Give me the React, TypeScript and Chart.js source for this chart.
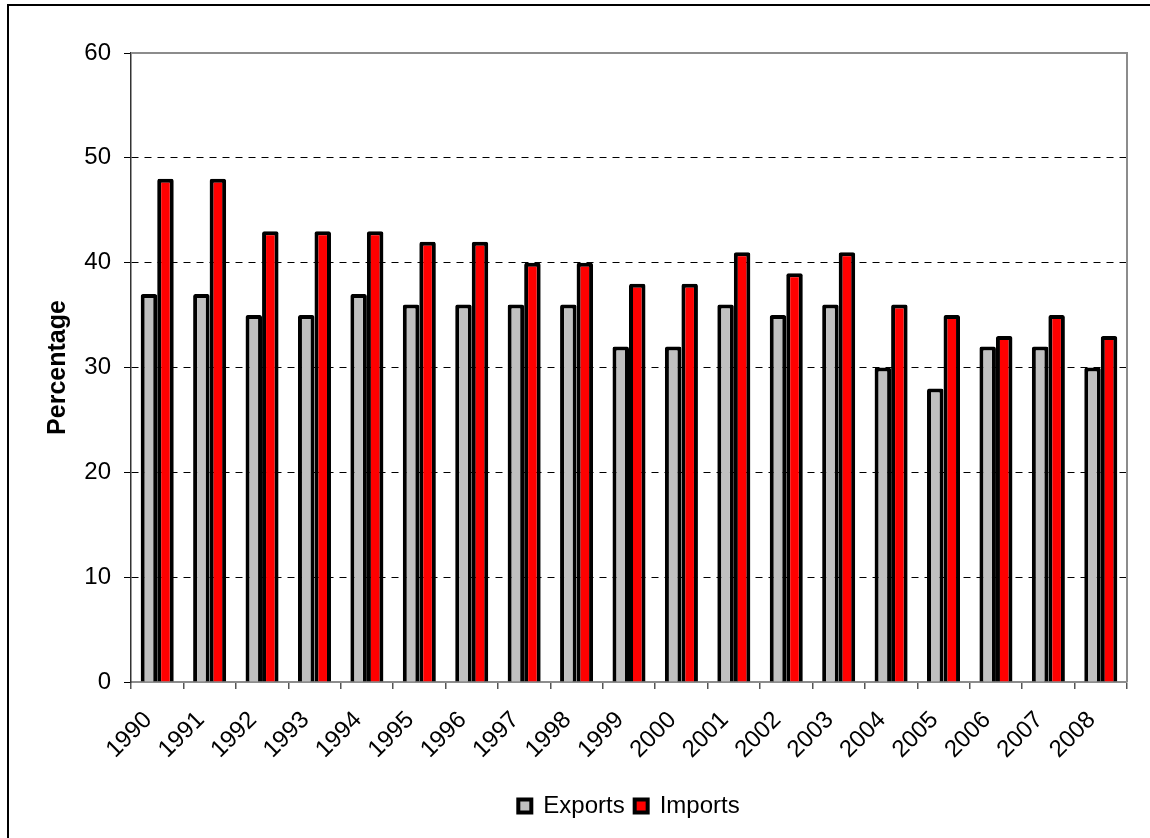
import React, { useEffect, useRef } from "react";
import { Chart, registerables } from "chart.js";

Chart.register(...registerables);

const years = ["1990","1991","1992","1993","1994","1995","1996","1997","1998","1999","2000","2001","2002","2003","2004","2005","2006","2007","2008"];
const exportsValues = [37,37,35,35,37,36,36,36,36,32,32,36,35,36,30,28,32,32,30];
const importsValues = [48,48,43,43,43,42,42,40,40,38,38,41,39,41,36,35,33,35,33];
const yTicks = [0,10,20,30,40,50,60];

const FONT = "'Liberation Sans', Arial, sans-serif";

const framePlugin = {
  id: "frame",
  beforeDraw(chart: any) {
    const ctx = chart.ctx;
    ctx.save();
    ctx.fillStyle = "#fff";
    ctx.fillRect(0, 0, chart.width, chart.height);
    ctx.fillStyle = "#000";
    ctx.fillRect(7, 4, chart.width - 7, 2);
    ctx.fillRect(7, 4, 2, chart.height - 4);
    ctx.restore();
  },
  afterDatasetsDraw(chart: any) {
    const { ctx, chartArea } = chart;
    ctx.save();
    ctx.strokeStyle = "#8c8c8c";
    ctx.lineWidth = 2;
    ctx.beginPath();
    ctx.moveTo(chartArea.left, chartArea.top);
    ctx.lineTo(chartArea.right, chartArea.top);
    ctx.lineTo(chartArea.right, chartArea.bottom);
    ctx.stroke();
    ctx.restore();
  },
};

export default function App() {
  const ref = useRef<HTMLCanvasElement | null>(null);
  useEffect(() => {
    if (!ref.current) return;
    const chart = new Chart(ref.current, {
      type: "bar",
      data: {
        labels: years,
        datasets: [
          {
            label: "Exports",
            data: exportsValues,
            backgroundColor: "#C0C0C0",
            borderColor: "#000",
            borderWidth: 4,
            borderRadius: 2,
            borderSkipped: "bottom",
            categoryPercentage: 0.63,
            barPercentage: 1,
          },
          {
            label: "Imports",
            data: importsValues,
            backgroundColor: "#FF0000",
            borderColor: "#000",
            borderWidth: 4,
            borderRadius: 2,
            borderSkipped: "bottom",
            categoryPercentage: 0.63,
            barPercentage: 1,
          },
        ],
      },
      options: {
        responsive: false,
        animation: false,
        layout: { padding: { left: 0, top: 53, right: 23, bottom: 10 } },
        plugins: {
          tooltip: { enabled: false },
          legend: {
            position: "bottom",
            fullSize: false,
            labels: {
              font: { family: FONT, size: 24 },
              color: "#000",
              boxWidth: 13,
              boxHeight: 13,
              padding: 10,
              generateLabels(chart: any) {
                return chart.data.datasets.map((ds: any, i: number) => ({
                  text: ds.label,
                  fillStyle: ds.backgroundColor,
                  strokeStyle: "#000",
                  lineWidth: 4,
                  fontColor: "#000",
                  datasetIndex: i,
                  hidden: false,
                }));
              },
            },
          },
        },
        scales: {
          x: {
            grid: {
              offset: true,
              drawOnChartArea: false,
              tickLength: 7,
              tickColor: "#555",
              lineWidth: 1.5,
            },
            border: { color: "#8c8c8c", width: 2 },
            ticks: {
              font: { family: FONT, size: 24 },
              color: "#000",
              minRotation: 45,
              maxRotation: 45,
              autoSkip: false,
              padding: 17,
              labelOffset: -9,
            },
            afterFit(scale: any) {
              scale.height = 102;
            },
          },
          y: {
            min: 0,
            max: 60,
            afterBuildTicks(scale: any) {
              scale.ticks = yTicks.map((v) => ({ value: v }));
            },
            grid: {
              color: (c: any) => (c.tick && (c.tick.value === 0 || c.tick.value === 60) ? "rgba(0,0,0,0)" : "#000"),
              tickColor: "#000",
              tickLength: 7,
              lineWidth: 1,
            },
            border: { color: "#333", width: 1.5, dash: [7, 6] },
            ticks: {
              font: { family: FONT, size: 24 },
              color: "#000",
              padding: 13,
            },
            title: {
              display: true,
              text: "Percentage",
              color: "#000",
              font: { family: FONT, size: 25, weight: "bold" },
              padding: { top: 43, bottom: 0 },
            },
            afterFit(scale: any) {
              scale.width = 131;
            },
          },
        },
      },
      plugins: [framePlugin],
    } as any);
    return () => chart.destroy();
  }, []);
  return (
    <div style={{ position: "absolute", left: 0, top: 0, width: 1150, height: 838 }}>
      <canvas ref={ref} width={1150} height={838} />
    </div>
  );
}
